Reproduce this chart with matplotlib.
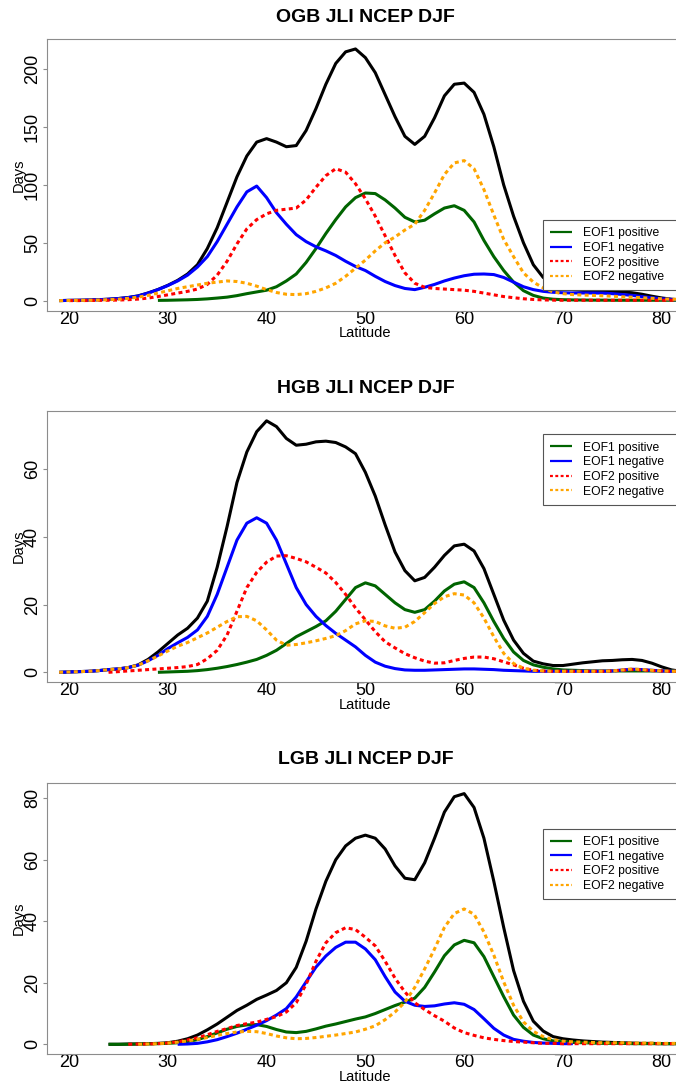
import numpy as np
import matplotlib
matplotlib.use("Agg")
import matplotlib.pyplot as plt

plt.rcParams['font.family'] = ['Liberation Sans', 'DejaVu Sans']

# ---------------------------------------------------------------- data
# days per latitude bin (1 degree steps)
# OGB panel
ogb_total_lat0 = 19
ogb_total = [0, 0.2, 0.3, 0.5, 0.8, 1.2, 1.8, 2.7, 4.1, 6.6, 9.6, 13.2, 17.5, 23, 31, 45,
             63, 85, 107, 125, 137, 140, 137, 133, 134, 147, 166, 187, 205, 215, 217.5,
             210, 197, 178, 159, 142, 135, 142, 158, 177, 187, 188, 180, 161, 133, 100,
             73, 50, 31, 20, 14, 11, 9.5, 8.8, 8.4, 8.2, 8, 7.5, 6.8, 5.5, 3.8, 2.3, 1.2, 0.6]
ogb_eof1_pos_lat0 = 29
ogb_eof1_pos = [0.2, 0.3, 0.5, 0.7, 1, 1.5, 2.2, 3, 4.3, 6, 7.5, 9, 12, 17, 23, 33, 45, 58,
                70, 81, 89, 93, 92.5, 87, 80, 72, 68, 69.5, 75, 80, 82, 78, 68, 52, 38, 26,
                16, 8.6, 4.5, 2.2, 1.2, 0.8, 0.6, 0.5, 0.4, 0.4, 0.3, 0.3, 0.3, 0.3, 0.3,
                0.3, 0.3, 0.3]
ogb_eof1_neg_lat0 = 19
ogb_eof1_neg = [0, 0.2, 0.3, 0.5, 0.8, 1.2, 1.8, 2.6, 4, 6.5, 9.5, 13, 17, 22, 29, 38, 51,
                66, 81, 94, 99, 89, 76, 66, 57, 51, 46.5, 43, 39, 34, 29.5, 26, 21, 16.5, 13,
                10.5, 9.5, 11.5, 14, 17, 19.5, 21.5, 22.8, 23, 22.5, 20, 16, 12, 9.5, 8,
                7.2, 6.8, 6.6, 6.6, 6.6, 6.5, 6, 5.3, 4.5, 3.5, 2.5, 1.6, 1, 0.6]
ogb_eof2_pos_lat0 = 20
ogb_eof2_pos = [0, 0, 0.1, 0.2, 0.3, 0.5, 0.8, 1.3, 2.2, 3.5, 5, 6.5, 8, 10, 14, 22, 34, 49,
                62, 70, 75, 78, 79, 80, 87, 98, 108, 114, 111, 101, 88, 73, 56, 39, 24, 15,
                11.5, 10.5, 10, 9.5, 9, 8, 6.5, 5, 3.5, 2.5, 1.6, 1, 0.6, 0.4, 0.3, 0.3,
                0.3, 0.3, 0.3, 0.3, 0.3, 0.3, 0.3, 0.3, 0.3, 0.3, 0.3]
ogb_eof2_neg_lat0 = 19
ogb_eof2_neg = [0, 0.1, 0.2, 0.3, 0.5, 0.8, 1.2, 2, 3, 4.5, 6.5, 8.5, 10.5, 12, 13.5, 15, 16,
                17, 16.5, 15, 12.5, 9.5, 7, 5.5, 5.2, 6, 8, 11, 15, 21, 28, 35, 43, 50, 55,
                61, 66, 78, 93, 109, 119, 121, 114, 96, 74, 53, 38, 24, 16, 11, 7.5, 6,
                5.2, 4.8, 4.5, 4.2, 3.8, 3.3, 2.9, 2.5, 2, 1.5, 1.2, 1]

# HGB panel
hgb_total_lat0 = 19
hgb_total = [0, 0.1, 0.2, 0.3, 0.5, 0.8, 1, 1.4, 2.2, 3.8, 6, 8.5, 11, 13, 16, 21, 31, 43,
             56, 65, 71, 74.2, 72.5, 69, 67, 67.3, 68, 68.2, 67.8, 66.5, 64.5, 59, 52, 43.5,
             35.5, 30, 27, 28, 31, 34.5, 37.3, 37.8, 35.8, 30.6, 23, 15.4, 9.5, 5.6, 3.3,
             2.5, 2, 2, 2.4, 2.8, 3.1, 3.4, 3.5, 3.7, 3.8, 3.5, 2.7, 1.6, 0.7, 0.3]
hgb_eof1_pos_lat0 = 29
hgb_eof1_pos = [0, 0.1, 0.2, 0.3, 0.5, 0.8, 1.2, 1.7, 2.3, 3, 3.8, 5, 6.5, 8.5, 10.5, 12,
                13.5, 15.2, 18, 21.5, 25, 26.4, 25.5, 23, 20.5, 18.5, 17.7, 18.5, 21, 24, 26,
                26.7, 25, 20.5, 15, 10, 6, 3.5, 2.2, 1.5, 1, 0.7, 0.6, 0.5, 0.4, 0.4, 0.4,
                0.4, 0.4, 0.4, 0.4, 0.4, 0.4, 0.4]
hgb_eof1_neg_lat0 = 19
hgb_eof1_neg = [0, 0.1, 0.2, 0.3, 0.5, 0.8, 1, 1.4, 2.1, 3.4, 5, 7, 8.7, 10.3, 12.5, 16.5, 23,
                31, 39, 44, 45.6, 44, 39, 32, 25, 20, 16.5, 13.8, 11.5, 9.5, 7.5, 5, 3, 1.8,
                1.1, 0.7, 0.6, 0.6, 0.7, 0.8, 0.9, 1, 1, 0.9, 0.8, 0.6, 0.5, 0.4, 0.3, 0.3,
                0.3, 0.3, 0.3, 0.3, 0.3, 0.3, 0.4, 0.7, 0.9, 0.8, 0.6, 0.4, 0.3, 0.3]
hgb_eof2_pos_lat0 = 24
hgb_eof2_pos = [0, 0.2, 0.4, 0.6, 0.8, 1, 1.2, 1.4, 1.7, 2.3, 4, 6.5, 11, 18, 25, 29.5, 32.5,
                34.3, 34.4, 33.6, 32.6, 31, 29.3, 26.5, 23, 19, 15.5, 12, 9, 7.2, 5.5, 4.3,
                3.3, 2.7, 2.8, 3.5, 4.1, 4.5, 4.5, 4, 3.1, 2.2, 1.2, 0.6, 0.4, 0.3, 0.3,
                0.3, 0.3, 0.3, 0.3, 0.4, 0.6, 0.8, 0.7, 0.5, 0.4, 0.3, 0.3]
hgb_eof2_neg_lat0 = 19
hgb_eof2_neg = [0, 0.1, 0.2, 0.3, 0.5, 0.8, 1, 1.4, 2.1, 3.4, 4.8, 6.3, 7.7, 8.8, 10.2, 11.6,
                13.3, 15, 16.4, 16.5, 15.2, 12.5, 9.5, 8, 8.2, 8.7, 9.3, 10, 10.8, 12.3, 14.3,
                15.2, 15, 13.7, 13, 13.3, 15, 17.6, 20.3, 22.3, 23.2, 22.8, 20.5, 16, 10.5,
                5.6, 2.6, 1.2, 0.6, 0.4, 0.3, 0.3, 0.3, 0.3, 0.3, 0.3, 0.4, 0.7, 1, 0.8, 0.6,
                0.4, 0.3, 0.3]

# LGB panel
lgb_total_lat0 = 24
lgb_total = [0, 0, 0.1, 0.1, 0.2, 0.3, 0.5, 1, 1.8, 3, 4.7, 6.6, 8.8, 11, 12.7, 14.6, 16,
             17.5, 20, 25, 33.5, 44, 53, 60, 64.5, 67, 68, 67, 63.5, 58, 54, 53.5, 59, 67,
             75.5, 80.5, 81.5, 77, 67, 53, 38, 24, 14, 7.5, 4.3, 2.5, 1.8, 1.4, 1.1, 0.9,
             0.7, 0.6, 0.5, 0.4, 0.3, 0.3, 0.2, 0.2, 0.2]
lgb_eof1_pos_lat0 = 24
lgb_eof1_pos = [0, 0, 0, 0.1, 0.1, 0.2, 0.3, 0.5, 0.9, 1.5, 2.5, 3.7, 4.9, 5.8, 6.3, 6.4,
                5.8, 4.8, 4, 3.8, 4.2, 5, 5.9, 6.6, 7.4, 8.2, 8.9, 10, 11.3, 12.6, 13.7, 15,
                18.5, 23.5, 28.8, 32.3, 33.8, 33, 28.5, 22, 15.5, 9.5, 5.5, 3, 1.8, 1.1, 0.8,
                0.6, 0.5, 0.4, 0.3, 0.3, 0.3, 0.2, 0.2, 0.2, 0.2, 0.2, 0.2]
lgb_eof1_neg_lat0 = 31
lgb_eof1_neg = [0, 0.1, 0.3, 0.8, 1.5, 2.5, 3.6, 4.9, 6.2, 7.7, 9.5, 11.6, 15.4, 20.3, 25.1,
                28.7, 31.5, 33.2, 33.2, 31, 27.5, 22, 17, 14, 12.7, 12.3, 12.5, 13.1, 13.5, 13,
                11.3, 8.3, 5.2, 3, 1.6, 1, 0.6, 0.4, 0.3, 0.2, 0.2]
lgb_eof2_pos_lat0 = 26
lgb_eof2_pos = [0, 0.1, 0.1, 0.2, 0.4, 0.8, 1.4, 2.1, 3.1, 4.2, 5.1, 6.1, 6.7, 7.2, 8.1, 9,
                10.5, 13.5, 19.5, 27, 33, 36.3, 37.9, 37.3, 34.8, 32, 27, 21.5, 17, 13.5,
                11.3, 9.3, 7.5, 5.3, 3.8, 2.9, 2.1, 1.6, 1.2, 0.9, 0.7, 0.5, 0.3, 0.3, 0.2,
                0.2, 0.2, 0.2, 0.2, 0.2, 0.2, 0.2, 0.2, 0.2, 0.2, 0.2, 0.2]
lgb_eof2_neg_lat0 = 27
lgb_eof2_neg = [0, 0.1, 0.2, 0.4, 0.7, 1.1, 1.6, 2.2, 2.9, 3.5, 4, 4.2, 4.1, 3.5, 2.7, 2.1,
                1.8, 1.9, 2.2, 2.6, 3, 3.5, 4, 4.9, 6, 8, 10.5, 13.7, 18.5, 24.5, 31, 38,
                42.5, 44, 42.3, 36.5, 29, 20.3, 12.7, 7.3, 4.2, 2.5, 1.5, 1, 0.8, 0.7, 0.6,
                0.5, 0.5, 0.5, 0.4, 0.4, 0.4, 0.3, 0.3, 0.3]

titles = ["OGB JLI NCEP DJF", "HGB JLI NCEP DJF", "LGB JLI NCEP DJF"]
labels = ["EOF1 positive", "EOF1 negative", "EOF2 positive", "EOF2 negative"]
xticks = [20, 30, 40, 50, 60, 70, 80]
yticks = [[0, 50, 100, 150, 200], [0, 20, 40, 60], [0, 20, 40, 60, 80]]

panels = [
    [(ogb_total_lat0, ogb_total), (ogb_eof1_pos_lat0, ogb_eof1_pos),
     (ogb_eof1_neg_lat0, ogb_eof1_neg), (ogb_eof2_pos_lat0, ogb_eof2_pos),
     (ogb_eof2_neg_lat0, ogb_eof2_neg)],
    [(hgb_total_lat0, hgb_total), (hgb_eof1_pos_lat0, hgb_eof1_pos),
     (hgb_eof1_neg_lat0, hgb_eof1_neg), (hgb_eof2_pos_lat0, hgb_eof2_pos),
     (hgb_eof2_neg_lat0, hgb_eof2_neg)],
    [(lgb_total_lat0, lgb_total), (lgb_eof1_pos_lat0, lgb_eof1_pos),
     (lgb_eof1_neg_lat0, lgb_eof1_neg), (lgb_eof2_pos_lat0, lgb_eof2_pos),
     (lgb_eof2_neg_lat0, lgb_eof2_neg)],
]

# ---------------------------------------------------------------- style
colors = ["black", "darkgreen", "blue", "red", "orange"]
styles = ["-", "-", "-", ":", ":"]
framecol = "#8c8c8c"

bottoms = [0.7142, 0.3723, 0.0301]
heights = [0.2497, 0.2496, 0.2499]
ylims = [(-8.69, 225.9), (-2.95, 77.1), (-3.25, 85.07)]
leg_box = [(0.070, 0.334), (0.647, 0.914), (0.566, 0.830)]
title_pads = [12.7, 13.2, 13.7]

fig = plt.figure(figsize=(6.76, 10.87), dpi=100)

for p in range(3):
    ax = fig.add_axes([0.0689, bottoms[p], 0.9435, heights[p]])
    hs = []
    for k, (lat0, vals) in enumerate(panels[p]):
        xs = np.arange(lat0, lat0 + len(vals))
        h, = ax.plot(xs, vals, color=colors[k], lw=2.2,
                     solid_joinstyle='round', dash_joinstyle='round',
                     solid_capstyle='butt')
        if styles[k] == ":":
            h.set_dashes((1.3, 1.1))
        hs.append(h)

    ax.set_xlim(17.73, 82.29)
    ax.set_ylim(*ylims[p])
    ax.set_xticks(xticks)
    ax.set_xticklabels([str(v) for v in xticks], fontsize=13)
    ax.set_yticks(yticks[p])
    ax.set_yticklabels([str(v) for v in yticks[p]], fontsize=13,
                       rotation=90, va='center')
    ax.tick_params(axis='x', length=0, pad=0)
    ax.tick_params(axis='y', length=3, width=0.8, color=framecol, pad=1)
    for s in ax.spines.values():
        s.set_color(framecol)
        s.set_linewidth(0.8)

    ax.set_title(titles[p], fontsize=14, fontweight='bold', pad=title_pads[p])
    ax.set_xlabel("Latitude", fontsize=10.5, va='center')
    ax.xaxis.set_label_coords(0.5, -0.082)
    ax.set_ylabel("Days", fontsize=10.5, va='center')
    ax.yaxis.set_label_coords(-0.043, 0.5)

    y0, y1 = leg_box[p]
    leg = ax.legend(hs[1:], labels, loc='upper left',
                    bbox_to_anchor=(0.778, y0, 0.26, y1 - y0), mode='expand',
                    borderaxespad=0, fontsize=8.7, handlelength=1.8,
                    handletextpad=0.95, labelspacing=0.22, borderpad=0.6,
                    fancybox=False, framealpha=1)
    leg.get_frame().set_edgecolor("#555555")
    leg.get_frame().set_linewidth(0.8)
    for lh in leg.get_lines():
        lh.set_linewidth(1.6)

fig.savefig("out.png", dpi=100)
